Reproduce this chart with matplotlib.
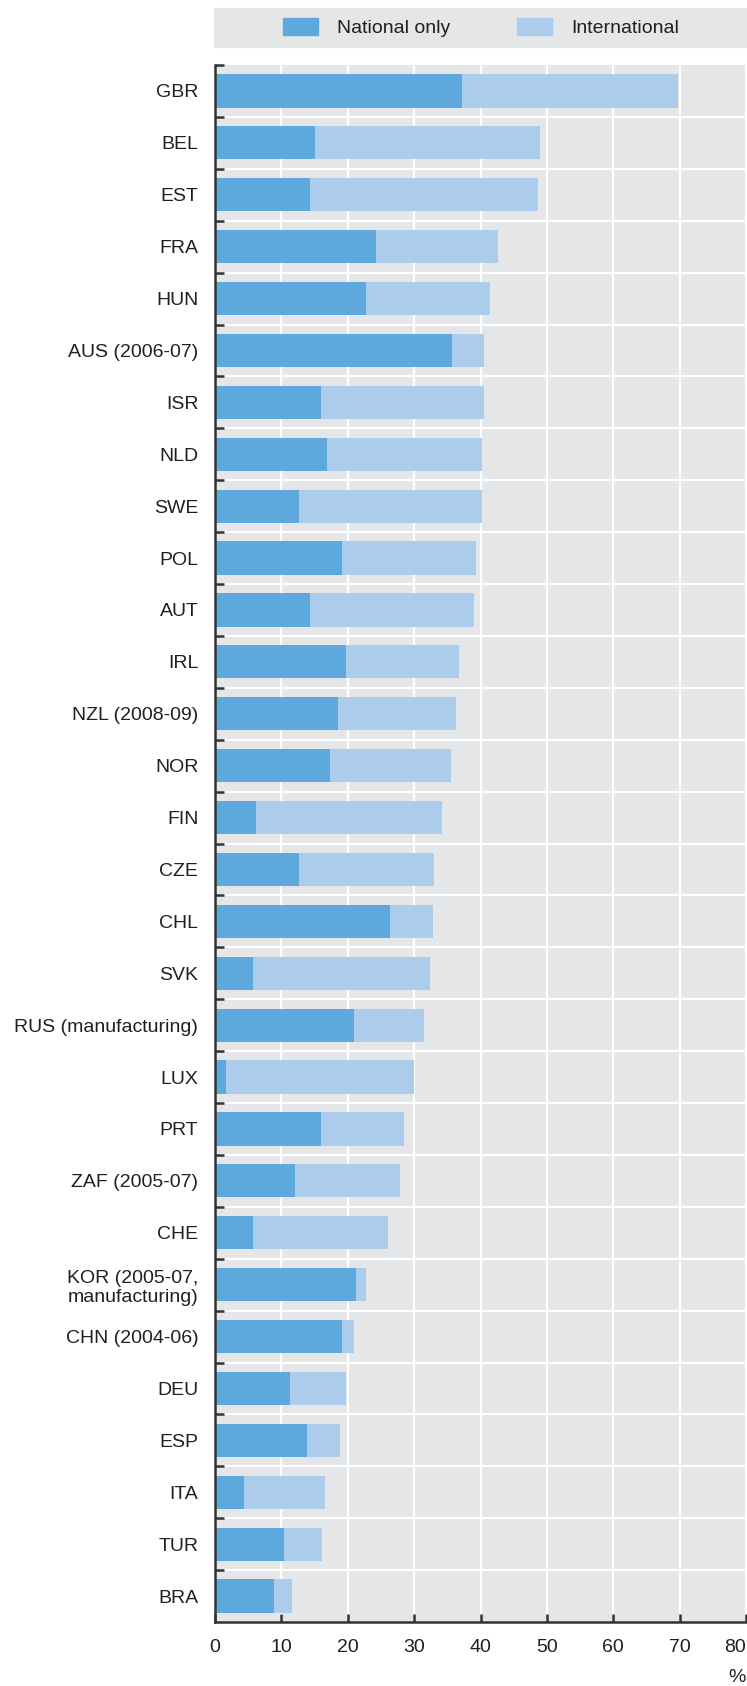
import numpy as np
import matplotlib
matplotlib.use('Agg')
import matplotlib.pyplot as plt
from matplotlib.patches import Rectangle, Patch

plt.rcParams['font.family'] = ['Liberation Sans', 'DejaVu Sans']

# countries, top to bottom
countries = ['GBR', 'BEL', 'EST', 'FRA', 'HUN', 'AUS (2006-07)', 'ISR', 'NLD', 'SWE', 'POL',
             'AUT', 'IRL', 'NZL (2008-09)', 'NOR', 'FIN', 'CZE', 'CHL', 'SVK',
             'RUS (manufacturing)', 'LUX', 'PRT', 'ZAF (2005-07)', 'CHE',
             'KOR (2005-07,\nmanufacturing)', 'CHN (2004-06)', 'DEU', 'ESP', 'ITA', 'TUR', 'BRA']
# share of firms collaborating nationally only, and total (national + international), %
national_only = [37.2, 15.0, 14.3, 24.3, 22.8, 35.7, 15.9, 16.8, 12.6, 19.2,
                 14.3, 19.8, 18.5, 17.4, 6.2, 12.6, 26.4, 5.7,
                 21.0, 1.7, 15.9, 12.0, 5.7,
                 21.3, 19.2, 11.3, 13.8, 4.4, 10.4, 8.9]
total = [69.8, 49.0, 48.7, 42.7, 41.4, 40.5, 40.5, 40.3, 40.3, 39.3,
         39.0, 36.7, 36.3, 35.5, 34.2, 33.0, 32.8, 32.4,
         31.5, 30.0, 28.5, 27.9, 26.1,
         22.8, 21.0, 19.8, 18.8, 16.5, 16.1, 11.6]
xticks = [0, 10, 20, 30, 40, 50, 60, 70, 80]

dark = '#5da9dd'
light = '#abcdeb'
bg = '#e5e6e7'
txt = '#231f20'
W, H = 747, 1686

fig = plt.figure(figsize=(W / 100, H / 100), dpi=100)
ax = fig.add_axes([215 / W, 1 - 1622 / H, (746 - 215) / W, (1622 - 65) / H])
ax.set_facecolor(bg)

nat = np.array(national_only)
intl = np.array(total) - nat
y = np.arange(len(countries))
ax.barh(y, nat, height=0.64, color=dark, zorder=3)
ax.barh(y, intl, left=nat, height=0.64, color=light, zorder=3)

ax.set_ylim(len(countries) - 0.5, -0.5)
ax.set_xlim(0, 80)

# white grid: vertical at x ticks, horizontal between categories
for xv in xticks[1:]:
    ax.axvline(xv, color='white', lw=1.5, zorder=1)
for yb in np.arange(0.5, len(countries) - 0.5, 1):
    ax.axhline(yb, color='white', lw=1.5, zorder=1)

ax.set_yticks(y)
ax.set_yticklabels(countries, fontsize=14, color=txt, ha='right', linespacing=1.15)
ax.tick_params(axis='y', length=0, pad=12)
ax.set_yticks(np.arange(-0.5, len(countries) - 0.5, 1), minor=True)
ax.tick_params(axis='y', which='minor', direction='in', length=6.5, width=1.8, color='#333333')

ax.set_xticks(xticks)
ax.set_xticklabels([str(v) for v in xticks], fontsize=14, color=txt)
ax.tick_params(axis='x', direction='in', length=6, width=1.8, color='#333333', pad=12)
# last label sits at the figure edge
ax.get_xticklabels()[-1].set_ha('right')

for s in ['top', 'right']:
    ax.spines[s].set_visible(False)
for s in ['left', 'bottom']:
    ax.spines[s].set_color('#333333')
    ax.spines[s].set_linewidth(1.8)
    ax.spines[s].set_zorder(5)

fig.text(737 / W, 1 - 1678 / H, '%', fontsize=14, color=txt, ha='center', va='center')

# legend band on top
fig.patches.append(Rectangle((214 / W, 1 - 47 / H), (W - 214) / W, 39 / H,
                             transform=fig.transFigure, color=bg, zorder=0))
handles = [Patch(color=dark), Patch(color=light)]
fig.legend(handles, ['National only', 'International'], loc='center',
           bbox_to_anchor=(481 / W, 1 - 27.5 / H), ncol=2, frameon=False,
           fontsize=14, handlelength=1.8, handleheight=1.0, handletextpad=1.0,
           columnspacing=3.4, labelcolor=txt)

fig.savefig('out.png', dpi=100)
